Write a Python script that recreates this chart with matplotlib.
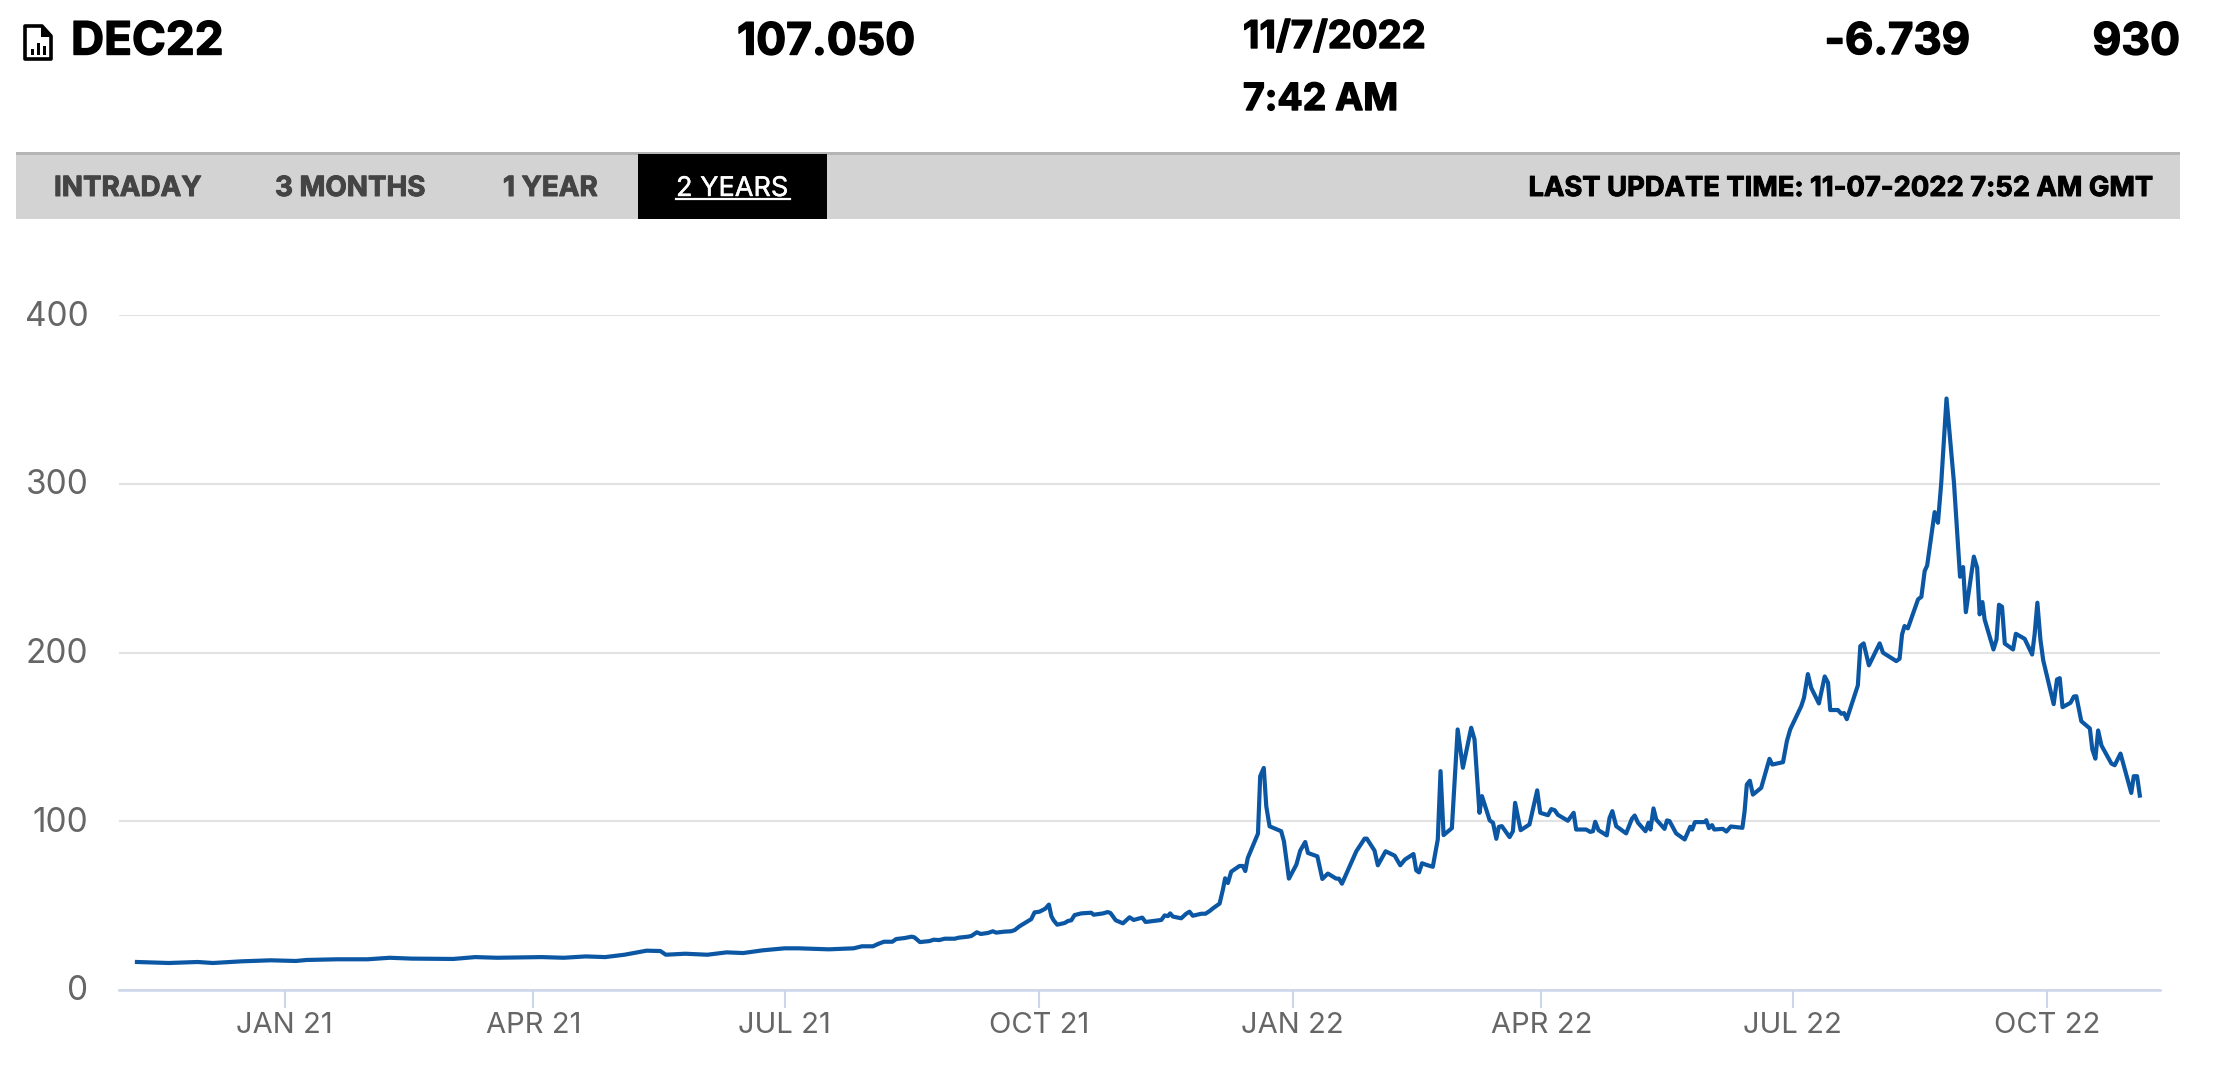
import matplotlib
matplotlib.use("Agg")
import matplotlib.pyplot as plt
import matplotlib.patheffects as pe
import matplotlib.transforms as mtrans
import pandas as pd
from matplotlib.patches import Rectangle, Polygon

# Price curve: days after 1 Jan 2021, and price
days = [
    -53.5, -42, -31.5, -26, -15.5, -5, 4, 8, 19, 30, 38, 46, 61, 69, 77, 93, 101, 109, 116, 123,
    131, 136, 138, 145, 153, 160, 166, 173, 181, 186, 197, 206, 209, 213,
    215, 217, 220, 221.4, 224.5, 227, 228, 230, 233.5, 235, 237, 239, 242.6, 244, 247.4, 248.6,
    250.6, 252, 254.6, 256.4, 257.6, 260.7, 263, 264.3, 266, 268, 269, 270.3, 271.5, 273.3, 275.4,
    276.7, 277.6, 278.4, 279.7, 282.4, 283.6, 284.8, 286, 288.4, 292, 292.9, 296.3, 298, 299,
    300.9, 303.5, 305.9, 307.4, 310.5, 311.7, 317.4, 318.6, 319.8, 320.6, 321.6, 324.6, 326.4,
    327.6, 328.8, 331.9, 333.4, 334.9, 336.1, 338.5, 339.7, 340.5, 341.5, 342.7, 345.7, 346.9,
    347.8, 348.7, 352.4, 353.2, 354.5, 355.4, 356.6, 360.8, 361.8, 363.6, 366.3, 367.7, 369.5,
    370.5, 373.9, 375.7, 377.7, 380.7, 381.7, 382.8, 388, 391, 391.8, 394.6, 395.8, 398.6, 401.9,
    403.9, 405.6, 408.7, 409.7, 410.7, 411.8, 413.3, 415.7, 417.5, 418.5, 419.6, 422.6, 424.7,
    426.6, 429.6, 430.8, 432.6, 433.5, 436.3, 437.5, 438.7, 439.6, 440.7, 443.5, 444.7, 445.5,
    447.5, 450.7, 453.5, 454.6, 457.4, 458.6, 459.8, 461, 464.6, 466.7, 467.6, 471.2, 472.7,
    473.7, 474.5, 475.7, 478.7, 479.7, 480.7, 482.1, 485.7, 487.8, 488.8, 490, 492.7, 493.8,
    494.5, 495.6, 496.6, 499.6, 500.5, 501.4, 503.8, 506.9, 508.9, 509.6, 510.6, 514.1, 514.7,
    515.7, 516.8, 517.6, 520.7, 522, 523.6, 527.8, 528.6, 529.4, 530.5, 531.6, 534.6, 537.6,
    538.6, 542.5, 543.9, 545.1, 549.1, 550.1, 551.5, 552.7, 555.5, 557.6, 558.8, 559.6, 562.4,
    563.6, 564.6, 565.6, 569.6, 570.5, 571.7, 573.6, 577.5, 578.7, 583.5, 584.7, 585.6, 586.5,
    587.7, 591.4, 592.6, 593.8, 594.7, 597.4, 598.6, 599.8, 601.7, 604.4, 606.6, 607.7, 608.7,
    611.6, 612.8, 613.7, 614.7, 615.5, 618.7, 619.8, 620.7, 621.8, 622.8, 625.8, 626.8, 630,
    632.7, 633.6, 634.6, 635.7, 636.7, 640.5, 641.7, 642.7, 643.7, 646.6, 647.8, 648.7, 650.5,
    653.6, 654.5, 655.6, 656.6, 657.8, 661.4, 662.6, 664.7, 668.6, 669.5, 670.7, 671.7,
]
prices = [
    16.6, 16.0, 16.6, 16.0, 17.0, 17.6, 17.2, 17.8, 18.2, 18.2, 19.1, 18.6, 18.4, 19.5, 19.1, 19.5, 19.1, 19.9, 19.5, 20.9,
    23.3, 23.1, 20.9, 21.5, 20.9, 22.3, 21.9, 23.5, 24.7, 24.7, 24.1, 24.7, 25.9, 25.9,
    27.4, 28.6, 28.6, 30.2, 30.8, 31.6, 31.2, 28.4, 29.0, 29.8, 29.6, 30.4, 30.4, 31.0, 31.6, 32.0,
    34.2, 33.2, 33.8, 34.8, 34.0, 34.6, 34.8, 35.5, 37.7, 39.7, 40.7, 42.0, 46.0, 46.4, 48.2,
    50.6, 43.7, 41.3, 38.7, 39.7, 40.9, 41.3, 44.4, 45.4, 45.8, 44.6, 45.4, 46.2, 45.6,
    41.3, 39.5, 43.1, 41.5, 42.9, 40.3, 41.5, 44.2, 43.8, 45.4, 43.5, 42.5, 45.2,
    46.4, 44.0, 45.2, 45.2, 46.8, 48.4, 51.2, 59.5, 66.2, 63.4, 70.1, 73.5, 73.5,
    70.5, 78.2, 92.7, 126.7, 131.6, 108.9, 97.0, 94.1, 88.1, 66.0, 74.3, 82.6, 87.7,
    81.2, 79.2, 65.8, 69.0, 66.0, 66.0, 63.0, 82.2, 89.7, 89.7, 82.6, 73.9, 82.2, 79.6,
    73.9, 77.3, 80.6, 70.9, 69.7, 75.1, 74.2, 73.0, 89.2, 129.7, 91.8, 95.9, 154.4,
    131.7, 155.4, 148.5, 105.0, 114.9, 100.5, 99.1, 89.6, 96.7, 97.1, 90.6, 94.1, 110.9,
    94.7, 98.1, 118.3, 105.0, 103.6, 107.2, 106.6, 103.8, 100.3, 105.0, 95.1, 95.1, 93.7,
    94.1, 99.7, 94.7, 91.6, 102.0, 106.0, 97.1, 92.8, 101.5, 103.4, 99.1, 94.1, 99.1,
    95.1, 107.6, 101.0, 95.5, 100.5, 100.1, 92.8, 89.2, 96.7, 95.1, 99.5, 99.5, 100.6,
    95.9, 97.7, 95.1, 95.5, 93.9, 96.9, 96.1, 106.0, 121.8, 124.0, 115.8, 119.8, 137.0,
    133.6, 135.0, 147.5, 154.4, 168.2, 173.2, 187.2, 179.1, 169.8, 185.8, 182.1, 165.9, 165.9,
    163.7, 164.1, 160.5, 180.5, 203.8, 205.4, 192.4, 205.4, 199.9, 194.9, 196.3, 210.7, 215.7,
    214.3, 231.5, 233.0, 248.3, 251.6, 283.2, 276.9, 300.6, 350.5, 300.6, 244.9, 250.6, 223.9,
    256.8, 250.2, 222.6, 229.9, 219.6, 201.8, 207.7, 228.3, 227.1, 205.3, 201.8, 211.1, 208.1,
    198.8, 210.7, 229.5, 207.7, 195.5, 169.4, 184.0, 184.8, 167.6, 170.2, 173.9, 174.1, 159.3,
    155.0, 142.5, 137.1, 153.8, 144.9, 134.2, 133.2, 140.1, 116.8, 126.7, 126.7, 115.2,
]

tick_dates = ["2021-01-01", "2021-04-01", "2021-07-01", "2021-10-01",
              "2022-01-01", "2022-04-01", "2022-07-01", "2022-10-01"]
tick_labels = ["JAN 21", "APR 21", "JUL 21", "OCT 21", "JAN 22", "APR 22", "JUL 22", "OCT 22"]
y_ticks = [0, 100, 200, 300, 400]

W, H = 2222, 1070
LINE = "#0b57a4"
TICK = "#666666"
HEAD = ["Inter", "DejaVu Sans"]

dates = pd.Timestamp("2021-01-01") + pd.to_timedelta(days, unit="D")

fig = plt.figure(figsize=(W / 100, H / 100), dpi=100, facecolor="white")

# Chart area, placed by pixels
ax = fig.add_axes([119 / W, 1 - 990 / H, (2160 - 119) / W, (990 - 315) / H])
ax.plot(dates, prices, color=LINE, linewidth=3.0, solid_joinstyle="round", zorder=3)
ax.set_xlim(pd.Timestamp("2021-01-01") - pd.Timedelta(days=60), pd.Timestamp("2021-01-01") + pd.Timedelta(days=679))
ax.set_ylim(0, 400)

ax.set_xticks(pd.to_datetime(tick_dates))
ax.set_xticklabels(tick_labels)
ax.set_yticks(y_ticks)
ax.grid(axis="y", color="#e2e2e2", linewidth=1.5)
ax.set_axisbelow(True)
for side in ["top", "left", "right"]:
    ax.spines[side].set_visible(False)
ax.spines["bottom"].set_color("#ccd6eb")
ax.spines["bottom"].set_linewidth(1.8)
ax.tick_params(axis="x", length=13, width=1.5, color="#ccd6eb", labelcolor=TICK, labelsize=21, pad=3)
ax.tick_params(axis="y", length=0, labelcolor=TICK, labelsize=24, pad=22)
for lab in ax.get_xticklabels() + ax.get_yticklabels():
    lab.set_family(["Inter", "DejaVu Sans"])
# y labels sit a touch above their gridlines in the reference
lift = mtrans.ScaledTranslation(0, 2 / 100, fig.dpi_scale_trans)
for lab in ax.get_yticklabels():
    lab.set_verticalalignment("center_baseline")
    lab.set_transform(lab.get_transform() + lift)

# Header and tab bar, drawn in pixel coordinates on a full-figure layer
top = fig.add_axes([0, 0, 1, 1], zorder=5)
top.set_xlim(0, W)
top.set_ylim(H, 0)
top.axis("off")

top.add_patch(Rectangle((16, 154), 2164, 65, color="#d3d3d3", lw=0))
top.add_patch(Rectangle((16, 152), 2164, 3, color="#b5b5b5", lw=0))
top.add_patch(Rectangle((638, 154), 189, 65, color="black", lw=0))
top.plot([676, 790], [199, 199], color="white", linewidth=1.6)

# File icon next to the contract name
top.add_patch(Polygon([(25, 26), (42, 26), (51, 36), (51, 59), (25, 59)], closed=True,
                      fill=False, edgecolor="black", linewidth=2.6, joinstyle="round"))
top.add_patch(Polygon([(41, 27), (41, 37), (50, 37)], closed=True, color="black", lw=0))
for bx, by in [(31, 49), (37, 43), (43, 46)]:
    top.add_patch(Rectangle((bx, by), 3, 55 - by, color="black", lw=0))


def label(x, y, text, size, color="black", weight="bold", ha="left", stroke=1.0):
    t = top.text(x, y, text, fontsize=size, color=color, fontweight=weight, ha=ha, va="center_baseline", family=HEAD)
    # the reference face is heavier than Inter Bold
    t.set_path_effects([pe.withStroke(linewidth=stroke, foreground=color)])


label(71, 38, "DEC22", 33)
label(737, 38, "107.050", 32)
label(1243, 34, "11/7/2022", 27.5)
label(1243, 96, "7:42 AM", 27)
label(1970, 38, "-6.739", 31.5, ha="right")
label(2180, 38, "930", 32, ha="right")

label(54, 186, "INTRADAY", 20, color="#444444", stroke=0.7)
label(275, 186, "3 MONTHS", 20, color="#444444", stroke=0.7)
label(503, 186, "1 YEAR", 20, color="#444444", stroke=0.7)
label(676, 186, "2 YEARS", 19.5, color="white", weight="normal", stroke=0.3)
label(2152, 186, "LAST UPDATE TIME: 11-07-2022 7:52 AM GMT", 19.7, ha="right", stroke=0.7)

fig.savefig("out.png", dpi=100)
